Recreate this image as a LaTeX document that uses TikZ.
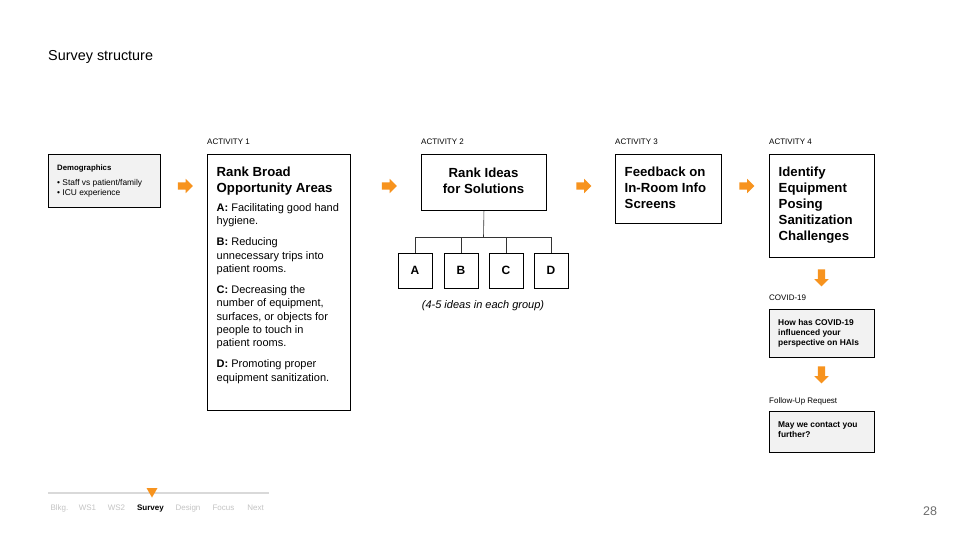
\documentclass[tikz,border=0pt]{standalone}
\usepackage{fontspec}
\setmainfont{Liberation Sans}
\usetikzlibrary{shapes.arrows}
\definecolor{org}{HTML}{F7931E}
\definecolor{boxgray}{HTML}{F2F2F2}
\definecolor{navgray}{HTML}{C4C4C4}
\definecolor{navline}{HTML}{D9D9D9}
\definecolor{pagegray}{HTML}{6E6E6E}
\begin{document}
\begin{tikzpicture}[x=1pt,y=-1pt,
  box/.style={draw=black, line width=0.9pt, anchor=north west, inner sep=0},
  graybox/.style={box, fill=boxgray},
  ttl/.style={anchor=north west, inner sep=0, align=left, font=\fontsize{13.2}{16}\selectfont\bfseries},
  body/.style={anchor=north west, inner sep=0, align=left, font=\fontsize{11}{13.1}\selectfont},
  small/.style={anchor=north west, inner sep=0, align=left, font=\fontsize{8.4}{10}\selectfont},
  smallb/.style={anchor=north west, inner sep=0, align=left, font=\fontsize{8.4}{10}\selectfont\bfseries},
  lbl/.style={anchor=base west, inner sep=0, font=\fontsize{8}{9}\selectfont},
  nav/.style={anchor=base, inner sep=0, font=\fontsize{8}{9}\selectfont, text=navgray},
  letter/.style={box, anchor=center, minimum width=34pt, minimum height=35pt, font=\fontsize{12}{14}\selectfont\bfseries},
  oarrow/.style={single arrow, fill=org, draw=none, inner sep=0, minimum height=15pt, minimum width=14pt, single arrow head extend=3.5pt},
  conn/.style={draw=black!80, line width=0.6pt}
]
\useasboundingbox[fill=white] (0,0) rectangle (960,540);

% title
\node[anchor=base west, inner sep=0, font=\fontsize{14.4}{16}\selectfont] (title) at (48,61) {Survey structure};

% demographics
\node[graybox, minimum width=112pt, minimum height=53pt] (demo) at (48,154) {};
\node[smallb, font=\fontsize{7.8}{10}\selectfont\bfseries] (demot) at (57,165) {Demographics};
\node[small] (demol) at (57,179.5) {• Staff vs patient/family\\• ICU experience};

% activity 1
\node[lbl] (l1) at (207,144.5) {ACTIVITY 1};
\node[box, minimum width=143pt, minimum height=256pt] (a1) at (207,154) {};
\node[ttl] (a1t) at (216.5,167) {Rank Broad\\Opportunity Areas};
\node[body] (a1b) at (216.5,203) {\textbf{A:} Facilitating good hand\\hygiene.\\[8.6pt]
\textbf{B:} Reducing\\unnecessary trips into\\patient rooms.\\[8.6pt]
\textbf{C:} Decreasing the\\number of equipment,\\surfaces, or objects for\\people to touch in\\patient rooms.\\[8.6pt]
\textbf{D:} Promoting proper\\equipment sanitization.};

% activity 2
\node[lbl] (l2) at (421,144.5) {ACTIVITY 2};
\node[box, minimum width=125pt, minimum height=56pt] (a2) at (421,154) {};
\node[anchor=center, inner sep=0, align=center, font=\fontsize{13.2}{16}\selectfont\bfseries] (a2t) at (483.5,181) {Rank Ideas\\for Solutions};
\node[letter] (bA) at (415,270.5) {A};
\node[letter] (bB) at (461,270.5) {B};
\node[letter] (bC) at (506,270.5) {C};
\node[letter] (bD) at (551,270.5) {D};
\coordinate (j) at (483.5,237);
\draw[conn] (a2.south) -- (j);
\draw[conn] (j) -| (bA.north);
\draw[conn] (j) -| (bB.north);
\draw[conn] (j) -| (bC.north);
\draw[conn] (j) -| (bD.north);
\node[anchor=center, inner sep=0, font=\fontsize{11}{12}\selectfont\itshape] (note) at (483,305.5) {(4-5 ideas in each group)};

% activity 3
\node[lbl] (l3) at (615,144.5) {ACTIVITY 3};
\node[box, minimum width=106pt, minimum height=69pt] (a3) at (615,154) {};
\node[ttl] (a3t) at (624.5,167) {Feedback on\\In-Room Info\\Screens};

% activity 4
\node[lbl] (l4) at (769,144.5) {ACTIVITY 4};
\node[box, minimum width=105pt, minimum height=103pt] (a4) at (769,154) {};
\node[ttl] (a4t) at (778.5,167) {Identify\\Equipment\\Posing\\Sanitization\\Challenges};

% horizontal arrows
\node[oarrow] (ar1) at (183.5,186) {\rule{0pt}{7pt}};
\node[oarrow] (ar2) at (387.5,186) {\rule{0pt}{7pt}};
\node[oarrow] (ar3) at (582,186) {\rule{0pt}{7pt}};
\node[oarrow] (ar4) at (745,186) {\rule{0pt}{7pt}};

% covid
\node[oarrow, shape border rotate=270, minimum height=17pt] (ar5) at (821.5,276) {\rule{7pt}{0pt}};
\node[lbl] (l5) at (769,300.5) {COVID-19};
\node[graybox, minimum width=105pt, minimum height=48pt] (cov) at (769,309) {};
\node[smallb] (covt) at (778,319.5) {How has COVID-19\\influenced your\\perspective on HAIs};

% follow-up
\node[oarrow, shape border rotate=270, minimum height=17pt] (ar6) at (821.5,373) {\rule{7pt}{0pt}};
\node[lbl] (l6) at (769,403.5) {Follow-Up Request};
\node[graybox, minimum width=105pt, minimum height=41pt] (fol) at (769,411) {};
\node[smallb] (folt) at (778,421.5) {May we contact you\\further?};

% navigation
\draw[navline, line width=1.5pt] (48,493) -- (269,493);
\fill[org] (146.5,488) -- (157.5,488) -- (152,497.5) -- cycle;
\node[nav] (n1) at (59.5,510.5) {Blkg.};
\node[nav] (n2) at (87.5,510.5) {WS1};
\node[nav] (n3) at (116.5,510.5) {WS2};
\node[nav, text=black, font=\fontsize{8}{9}\selectfont\bfseries] (n4) at (150.5,510.5) {Survey};
\node[nav] (n5) at (188,510.5) {Design};
\node[nav] (n6) at (223.5,510.5) {Focus};
\node[nav] (n7) at (255.5,510.5) {Next};

\node[anchor=center, inner sep=0, font=\fontsize{12.5}{14}\selectfont, text=pagegray] (pg) at (930,511) {28};
\end{tikzpicture}
\end{document}
